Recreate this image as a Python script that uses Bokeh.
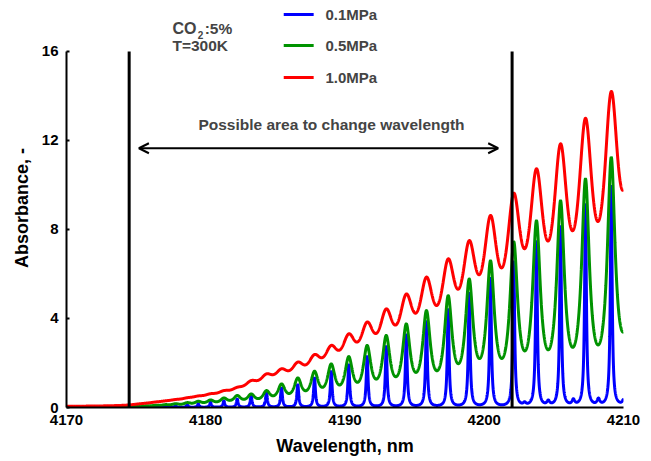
import numpy as np
from bokeh.plotting import figure
from bokeh.models import Range1d, FixedTicker, Label, Arrow, OpenHead
from bokeh.embed import file_html
from bokeh.resources import INLINE

# ---- data ----
line_centers = [4173.27, 4173.67, 4174.12, 4174.62, 4175.17, 4175.77, 4176.42,
                4177.11, 4177.83, 4178.67, 4179.46, 4180.34, 4181.30, 4182.26,
                4183.26, 4184.36, 4185.44, 4186.61, 4187.81, 4189.01, 4190.27,
                4191.59, 4192.96, 4194.40, 4195.85, 4197.41, 4198.92, 4200.45,
                4202.12, 4203.75, 4205.48, 4207.27, 4209.12, 4211.00]
blue_peaks = [0.005, 0.008, 0.01, 0.015, 0.02, 0.03, 0.04,
              0.06, 0.09, 0.13, 0.17, 0.24, 0.31, 0.39,
              0.54, 0.69, 0.91, 1.06, 1.36, 1.66, 1.96,
              2.34, 2.79, 3.32, 3.91, 4.45, 5.18, 5.86,
              6.60, 7.50, 8.18, 9.17, 9.98, 10.8]
green_peaks = [0.02, 0.03, 0.04, 0.05, 0.06, 0.08, 0.10,
               0.13, 0.17, 0.22, 0.28, 0.34, 0.43, 0.54,
               0.61, 0.76, 1.06, 1.33, 1.63, 1.96, 2.29,
               2.79, 3.24, 3.76, 4.36, 5.03, 5.78, 6.60,
               7.45, 8.40, 9.30, 10.28, 11.25, 18.0]
red_peaks = [0.06, 0.08, 0.10, 0.13, 0.16, 0.20, 0.25,
             0.30, 0.36, 0.44, 0.52, 0.62, 0.76, 0.91,
             1.21, 1.51, 1.74, 2.04, 2.38, 2.79, 3.31,
             3.84, 4.43, 5.10, 5.86, 6.68, 7.50, 8.63,
             9.63, 10.73, 11.85, 13.00, 14.20, 19.5]
weak_centers = [4202.9, 4204.6, 4206.4, 4208.2, 4210.1]
weak_blue = [0.12, 0.20, 0.25, 0.28, 0.45]

series_names = ["0.1MPa", "0.5MPa", "1.0MPa"]
series_colors = ["#0000FF", "#009300", "#FF0000"]
half_widths = [0.075, 0.34, 0.64]

marker_lines = [4174.5, 4202.0]
arrow_span = [4175.2, 4201.0]
y_ticks = [0, 4, 8, 12, 16]
x_ticks = [4170, 4180, 4190, 4200, 4210]

wl = np.linspace(4170, 4210, 4001)


def lor(x, c, g):
    return g * g / ((x - c) ** 2 + g * g)


def spectrum(centers, heights, g):
    c = np.array(centers)
    h = np.array(heights)
    M = lor(c[:, None], c[None, :], g)
    s = h.copy()
    Mh = M @ h
    for _ in range(4000):
        s = s * Mh / (M @ (M @ s))
    return lor(wl[:, None], c[None, :], g) @ s


curves = [
    spectrum(line_centers, blue_peaks, half_widths[0])
    + lor(wl[:, None], np.array(weak_centers)[None, :], 0.12) @ np.array(weak_blue),
    spectrum(line_centers, green_peaks, half_widths[1]),
    spectrum(line_centers, red_peaks, half_widths[2]),
]

FONT = "Liberation Sans"

p = figure(width=645, height=461,
           x_range=Range1d(4170, 4210), y_range=Range1d(0, 17.93),
           output_backend="svg", toolbar_location=None,
           min_border_left=66, min_border_right=22,
           min_border_top=8, min_border_bottom=54)
p.outline_line_color = None
p.grid.visible = False
p.background_fill_color = "white"

for ax in (p.xaxis[0], p.yaxis[0]):
    ax.axis_line_width = 2
    ax.axis_line_color = "black"
    ax.minor_tick_line_color = None
    ax.major_label_text_font = FONT
    ax.major_label_text_font_style = "bold"
    ax.major_label_text_font_size = "15px"
    ax.major_label_text_color = "black"
    ax.axis_label_text_font = FONT
    ax.axis_label_text_font_style = "bold"
    ax.axis_label_text_font_size = "18px"
    ax.axis_label_text_color = "black"

p.yaxis.ticker = FixedTicker(ticks=y_ticks)
p.yaxis.bounds = (0, 16)
p.yaxis.major_tick_in = 3
p.yaxis.major_tick_out = 0
p.yaxis.major_tick_line_width = 2
p.yaxis.major_label_standoff = 8
p.yaxis.axis_label = "Absorbance, -"
p.yaxis.axis_label_standoff = 7

p.xaxis.ticker = FixedTicker(ticks=x_ticks)
p.xaxis.major_tick_in = 0
p.xaxis.major_tick_out = 0
p.xaxis.major_label_standoff = 7
p.xaxis.axis_label = "Wavelength, nm"
p.xaxis.axis_label_standoff = 8

for yv, col in zip(curves, series_colors):
    p.line(wl, yv, line_color=col, line_width=3)

p.segment(x0=marker_lines, y0=[0, 0], x1=marker_lines, y1=[16, 16],
          line_color="black", line_width=3)

p.add_layout(Arrow(start=OpenHead(size=10, line_width=2, line_color="black"),
                   end=OpenHead(size=10, line_width=2, line_color="black"),
                   x_start=arrow_span[0], y_start=11.65,
                   x_end=arrow_span[1], y_end=11.65,
                   line_width=2, line_color="black"))

p.add_layout(Label(x=4189.03, y=12.72, text="Possible area to change wavelength",
                   text_font=FONT, text_font_style="bold", text_font_size="15.5px",
                   text_align="center", text_baseline="middle"))

# CO2 / temperature note
p.add_layout(Label(x=4177.61, y=17.01, text="CO", text_font=FONT,
                   text_font_style="bold", text_font_size="16px",
                   text_baseline="middle"))
p.add_layout(Label(x=4179.42, y=16.76, text="2", text_font=FONT,
                   text_font_style="bold", text_font_size="10px",
                   text_baseline="middle"))
p.add_layout(Label(x=4179.92, y=17.01, text=":5%", text_font=FONT,
                   text_font_style="bold", text_font_size="15.5px",
                   text_baseline="middle"))
p.add_layout(Label(x=4177.61, y=16.25, text="T=300K", text_font=FONT,
                   text_font_style="bold", text_font_size="15.5px",
                   text_baseline="middle"))

# legend drawn by hand
legend_y = [17.66, 16.27, 14.83]
p.segment(x0=[4185.6] * 3, y0=legend_y, x1=[4187.75] * 3, y1=legend_y,
          line_color=series_colors, line_width=3)
for yy, name in zip(legend_y, series_names):
    p.add_layout(Label(x=4188.6, y=yy, text=name, text_font=FONT,
                       text_font_style="bold", text_font_size="15px",
                       text_baseline="middle"))

open("out.html", "w").write(file_html(p, INLINE))
